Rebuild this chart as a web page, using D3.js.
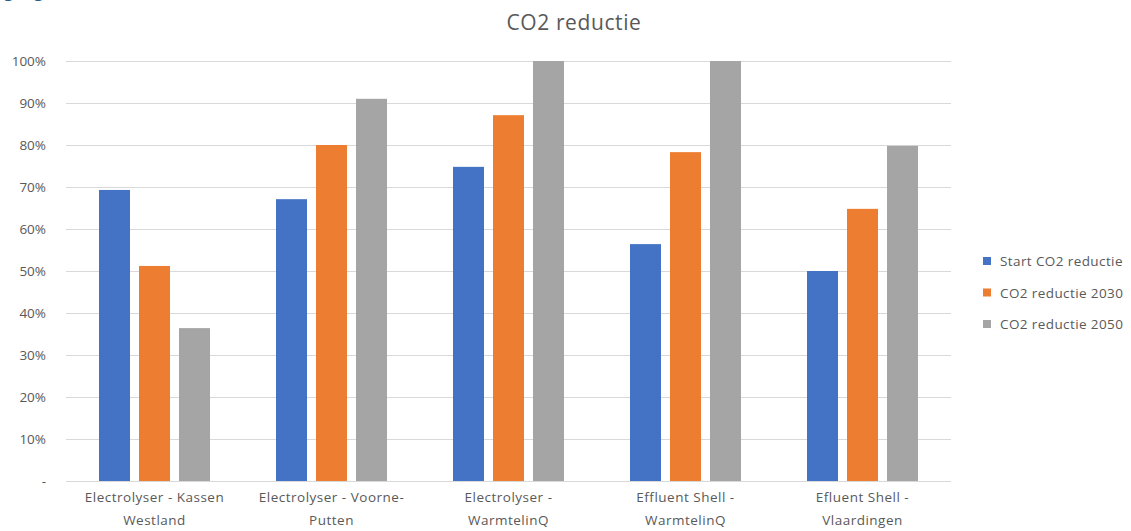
<!DOCTYPE html>
<html><head><meta charset="utf-8">
<script src="https://cdn.jsdelivr.net/npm/d3@7"></script>
<style>body{margin:0;background:#fff;}svg{display:block;font-family:"Open Sans","Lato",sans-serif;}</style>
</head><body>
<svg id="c" width="1131" height="531"></svg>
<script>
const categories = [
  ["Electrolyser - Kassen", "Westland"],
  ["Electrolyser - Voorne-", "Putten"],
  ["Electrolyser -", "WarmtelinQ"],
  ["Effluent Shell -", "WarmtelinQ"],
  ["Efluent Shell -", "Vlaardingen"]
];
const seriesNames = ["Start CO2 reductie", "CO2 reductie 2030", "CO2 reductie 2050"];
const startValues = [0.693, 0.671, 0.748, 0.564, 0.50];
const values2030 = [0.512, 0.80, 0.871, 0.783, 0.648];
const values2050 = [0.364, 0.91, 1.00, 1.00, 0.798];
const yTicks = [0, 0.1, 0.2, 0.3, 0.4, 0.5, 0.6, 0.7, 0.8, 0.9, 1.0];
const colors = ["#4472C4", "#ED7D31", "#A5A5A5"];

const svg = d3.select("#c");
const m = {left: 66, right: 951, top: 61, bottom: 481};
const x = d3.scaleBand().domain(d3.range(categories.length)).range([m.left, m.right]).paddingInner(0).paddingOuter(0);
const y = d3.scaleLinear().domain([0, 1]).range([m.bottom, m.top]);
const x1 = d3.scaleBand().domain(d3.range(3)).range([0, x.bandwidth()]).paddingInner(0.225).paddingOuter(0.825);

// stray header text fragment at top-left (cut off in the reference)
svg.append("text").attr("x", 4).attr("y", -3).attr("font-size", 17).attr("fill", "#1F6391").text("g");
svg.append("text").attr("x", 34).attr("y", -3).attr("font-size", 17).attr("fill", "#1F6391").text("g");

// title
svg.append("text").attr("x", 574).attr("y", 30).attr("text-anchor", "middle")
  .attr("font-size", 21).attr("letter-spacing", 0.6).attr("fill", "#595959").text("CO2 reductie");

// grid
svg.append("g").selectAll("line").data(yTicks).join("line")
  .attr("x1", m.left).attr("x2", m.right)
  .attr("y1", d => Math.round(y(d)) + 0.5).attr("y2", d => Math.round(y(d)) + 0.5)
  .attr("stroke", "#D9D9D9").attr("stroke-width", 1);

// y axis labels
const yAxis = d3.axisLeft(y).tickValues(yTicks).tickSize(0).tickPadding(0)
  .tickFormat(d => d === 0 ? "-" : d3.format(".0%")(d));
const ga = svg.append("g").attr("transform", `translate(46,0)`).call(yAxis);
ga.select(".domain").remove();
ga.selectAll("text").attr("font-size", 13.5).attr("fill", "#595959")
  .attr("font-family", "'Open Sans',sans-serif");

// bars
const series = [startValues, values2030, values2050];
series.forEach((vals, si) => {
  svg.append("g").selectAll("rect").data(vals).join("rect")
    .attr("x", (d, i) => x(i) + x1(si))
    .attr("width", x1.bandwidth())
    .attr("y", d => y(d))
    .attr("height", d => y(0) - y(d))
    .attr("fill", colors[si]);
});

// x labels
const xl = svg.append("g");
categories.forEach((lines, i) => {
  const t = xl.append("text").attr("text-anchor", "middle").attr("font-size", 13.5)
    .attr("letter-spacing", 0.5).attr("fill", "#595959");
  lines.forEach((ln, j) => {
    t.append("tspan").attr("x", x(i) + x.bandwidth() / 2).attr("y", 502 + j * 23).text(ln);
  });
});

// legend
const lg = svg.append("g");
seriesNames.forEach((n, i) => {
  const yy = 261 + i * 31.5;
  lg.append("rect").attr("x", 983).attr("y", yy - 4).attr("width", 8).attr("height", 8).attr("fill", colors[i]);
  lg.append("text").attr("x", 1000).attr("y", yy + 5).attr("font-size", 13.5)
    .attr("letter-spacing", 0.4).attr("fill", "#595959").text(n);
});
</script>
</body></html>
